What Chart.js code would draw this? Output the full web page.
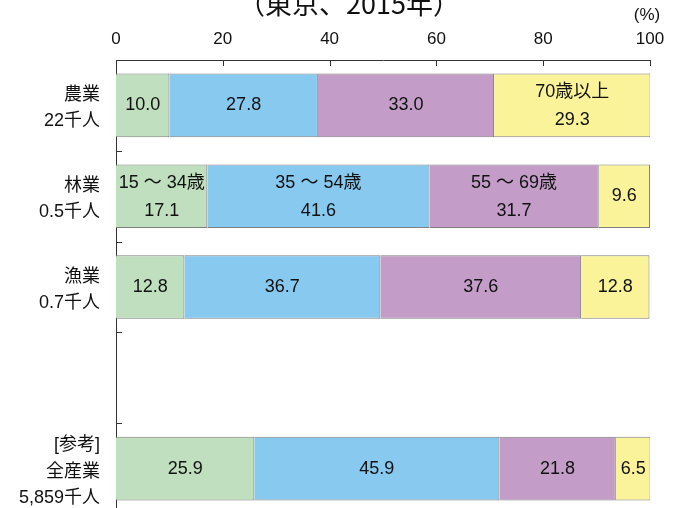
<!DOCTYPE html>
<html>
<head>
    <meta charset="utf-8">
    <title>年齢階級別就業者割合（東京、2015年）</title>
    <script src="https://cdn.jsdelivr.net/npm/chart.js"></script>
    <style>
        html, body { margin: 0; padding: 0; overflow: hidden; background: #fff; }
    </style>
</head>
<body>
    <canvas id="ageChart" width="683" height="520"></canvas>

    <script>
        // 産業（縦軸のカテゴリ）
        const industries = [['農業', '22千人'], ['林業', '0.5千人'], ['漁業', '0.7千人'], '', ['[参考]', '全産業', '5,859千人']];
        // 年齢階級
        const ageGroups = ['15 ～ 34歳', '35 ～ 54歳', '55 ～ 69歳', '70歳以上'];
        // 各年齢階級の割合（%）
        const age15to34 = [10.0, 17.1, 12.8, null, 25.9];
        const age35to54 = [27.8, 41.6, 36.7, null, 45.9];
        const age55to69 = [33.0, 31.7, 37.6, null, 21.8];
        const age70plus = [29.3, 9.6, 12.8, null, 6.5];
        const xTicks = [0, 20, 40, 60, 80, 100];

        const colors = ['#bfdfbe', '#88c9ef', '#c39dc8', '#faf39a'];
        // 系列名を表示するバー [系列, カテゴリ]
        const nameAt = [[0, 1], [1, 1], [2, 1], [3, 0]];

        const jpFont = '"Liberation Sans", "Noto Sans CJK JP", sans-serif';

        const labelPlugin = {
            id: 'barLabels',
            afterDatasetsDraw(chart) {
                const ctx = chart.ctx;
                ctx.save();
                ctx.fillStyle = '#111';
                ctx.font = '18px ' + jpFont;
                ctx.textAlign = 'center';
                ctx.textBaseline = 'middle';
                chart.data.datasets.forEach((ds, di) => {
                    chart.getDatasetMeta(di).data.forEach((bar, i) => {
                        const v = ds.data[i];
                        if (v == null) return;
                        const cx = (bar.x + bar.base) / 2;
                        const named = nameAt.some(p => p[0] === di && p[1] === i);
                        if (named) {
                            ctx.fillText(ds.label, cx, bar.y - 13);
                            ctx.fillText(v.toFixed(1), cx, bar.y + 15);
                        } else {
                            ctx.fillText(v.toFixed(1), cx, bar.y);
                        }
                    });
                });
                ctx.restore();
            },
            afterDraw(chart) {
                const ctx = chart.ctx;
                const xs = chart.scales.x, ys = chart.scales.y;
                ctx.save();
                ctx.strokeStyle = '#333';
                ctx.lineWidth = 1;
                ctx.beginPath();
                // x軸の目盛り（内向き）
                xTicks.forEach(t => {
                    const px = Math.round(xs.getPixelForValue(t)) + 0.5;
                    ctx.moveTo(px, xs.bottom);
                    ctx.lineTo(px, xs.bottom + 6);
                });
                // y軸の区切り目盛り
                const step = (ys.bottom - ys.top) / industries.length;
                for (let i = 1; i < industries.length; i++) {
                    const py = Math.round(ys.top + step * i) + 0.5;
                    ctx.moveTo(ys.right, py);
                    ctx.lineTo(ys.right + 6, py);
                }
                ctx.stroke();
                // タイトルと単位
                ctx.fillStyle = '#111';
                ctx.textAlign = 'center';
                ctx.textBaseline = 'middle';
                ctx.font = '400 27px "Noto Sans CJK JP", sans-serif';
                ctx.fillText('（東京、2015年）', 349, 4);
                ctx.font = '17px ' + jpFont;
                ctx.fillText('(%)', 647, 15);
                ctx.restore();
            }
        };

        new Chart(document.getElementById('ageChart'), {
            type: 'bar',
            data: {
                labels: industries,
                datasets: [age15to34, age35to54, age55to69, age70plus].map((d, k) => ({
                    label: ageGroups[k],
                    data: d,
                    backgroundColor: colors[k],
                    borderColor: '#7f7f7f',
                    borderWidth: 1,
                    categoryPercentage: 1,
                    barPercentage: 0.7
                }))
            },
            options: {
                indexAxis: 'y',
                responsive: false,
                animation: false,
                layout: { padding: { top: 0, right: 33, bottom: 6, left: 0 } },
                plugins: { legend: { display: false }, tooltip: { enabled: false } },
                scales: {
                    x: {
                        position: 'top',
                        stacked: true,
                        min: 0, max: 100,
                        afterFit(s) { s.height = 60; },
                        afterBuildTicks(s) { s.ticks = xTicks.map(v => ({ value: v })); },
                        ticks: { color: '#111', padding: 2, font: { size: 17, family: jpFont } },
                        grid: { display: false },
                        border: { display: true, color: '#333' }
                    },
                    y: {
                        stacked: true,
                        afterFit(s) { s.width = 116; s.paddingTop = 0; s.paddingBottom = 0; },
                        ticks: { color: '#111', padding: 8, labelOffset: 3, font: { size: 18, family: jpFont, lineHeight: 1.45 } },
                        grid: { display: false },
                        border: { display: true, color: '#333' }
                    }
                }
            },
            plugins: [labelPlugin]
        });
    </script>
</body>
</html>
